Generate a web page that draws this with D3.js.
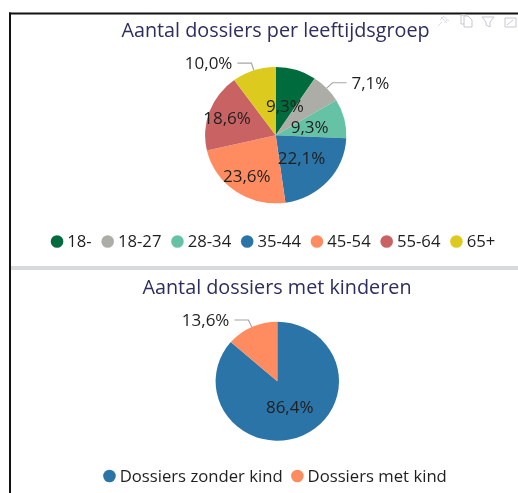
<!DOCTYPE html>
<html>
<head>
<meta charset="utf-8">
<script src="https://cdn.jsdelivr.net/npm/d3@7"></script>
<style>
  html, body { margin: 0; padding: 0; background: #fff; }
  svg { display: block; filter: blur(0.35px); font-family: "Open Sans", "Noto Sans", sans-serif; }
</style>
</head>
<body>
<svg id="chart" width="518" height="493"></svg>
<script>
const ageGroups = ['18-', '18-27', '28-34', '35-44', '45-54', '55-64', '65+'];
const ageShares = [9.3, 7.1, 9.3, 22.1, 23.6, 18.6, 10.0];
const ageColors = ['#006b3c', '#adada8', '#66c2a5', '#2b74a8', '#ff8c61', '#c96262', '#dccb1e'];

const kidGroups = ['Dossiers zonder kind', 'Dossiers met kind'];
const kidShares = [86.4, 13.6];
const kidColors = ['#2b74a8', '#ff8c61'];

const titleColor = '#2d2d5f';
const textColor = '#1f1f1f';
const leaderColor = '#a6a6a6';
const squash = 0.965; // the screenshot is slightly squashed vertically

const svg = d3.select('#chart');

// window chrome: black frame, grey divider between the two visuals
svg.append('rect').attr('x', 9).attr('y', 12.5).attr('width', 509).attr('height', 2).attr('fill', '#111');
svg.append('rect').attr('x', 9).attr('y', 12.5).attr('width', 2).attr('height', 481).attr('fill', '#111');
svg.append('rect').attr('x', 11).attr('y', 266).attr('width', 507).attr('height', 4).attr('fill', '#d9dadc');

function fmt(v) {
  return v.toFixed(1).replace('.', ',') + '%';
}

function drawPie(o) {
  const g = svg.append('g');

  g.append('text')
    .attr('x', o.titleX)
    .attr('y', o.titleY)
    .attr('text-anchor', 'middle')
    .attr('fill', titleColor)
    .style('font-size', '19.8px')
    .text(o.title);

  const slices = d3.pie().sort(null).value(d => d)(o.values);
  const arc = d3.arc().innerRadius(0).outerRadius(o.r);
  const color = d3.scaleOrdinal().domain(o.names).range(o.colors);

  const pie = g.append('g').attr('transform', `translate(${o.cx},${o.cy})`);

  pie.append('g')
    .attr('transform', `scale(1,${squash})`)
    .selectAll('path')
    .data(slices)
    .enter().append('path')
    .attr('d', arc)
    .attr('fill', (d, i) => color(o.names[i]));

  slices.forEach((d, i) => {
    const mid = (d.startAngle + d.endAngle) / 2;
    const sin = Math.sin(mid);
    const cos = Math.cos(mid);
    const inside = o.labelRadius[i];

    if (inside) {
      pie.append('text')
        .attr('x', sin * inside)
        .attr('y', -cos * inside * squash)
        .attr('dy', '0.35em')
        .attr('text-anchor', 'middle')
        .attr('fill', textColor)
        .style('font-size', '17px')
        .text(fmt(d.value));
      return;
    }

    // outside label with an elbow leader
    const side = sin < 0 ? -1 : 1;
    const ex = sin * (o.r + 8);
    const ey = -cos * (o.r + 8) * squash;
    const hx = ex + side * 14;
    pie.append('path')
      .attr('d', d3.line()([[sin * o.r, -cos * o.r * squash], [ex, ey], [hx, ey]]))
      .attr('fill', 'none')
      .attr('stroke', leaderColor)
      .attr('stroke-width', 1.2);
    pie.append('text')
      .attr('x', hx + side * 5)
      .attr('y', ey)
      .attr('dy', '0.35em')
      .attr('text-anchor', side < 0 ? 'end' : 'start')
      .attr('fill', textColor)
      .style('font-size', '17px')
      .text(fmt(d.value));
  });

  // legend, flowed from measured text widths and centred
  const legend = g.append('g');
  let x = 0;
  o.names.forEach(name => {
    const item = legend.append('g').attr('transform', `translate(${x},${o.legendY})`);
    item.append('circle').attr('cx', 6.3).attr('r', 6.3).attr('fill', color(name));
    const label = item.append('text')
      .attr('x', 16.5)
      .attr('dy', '0.35em')
      .attr('fill', textColor)
      .style('font-size', '16.7px')
      .text(name);
    x += 16.5 + label.node().getComputedTextLength() + o.legendGap;
  });
  legend.attr('transform', `translate(${o.legendCx - (x - o.legendGap) / 2},0)`);
}

drawPie({
  title: 'Aantal dossiers per leeftijdsgroep',
  titleX: 275.5, titleY: 37,
  names: ageGroups, values: ageShares, colors: ageColors,
  cx: 275.7, cy: 135.2, r: 70.6,
  labelRadius: [32, 0, 35, 35, 51, 52, 0],
  legendY: 241.5, legendCx: 273, legendGap: 9.7
});

drawPie({
  title: 'Aantal dossiers met kinderen',
  titleX: 277, titleY: 294,
  names: kidGroups, values: kidShares, colors: kidColors,
  cx: 277.3, cy: 381.2, r: 61.7,
  labelRadius: [30, 0],
  legendY: 476, legendCx: 275, legendGap: 8.4
});

// visual header icons
const icons = svg.append('g')
  .attr('fill', 'none')
  .attr('stroke', '#c6c6d2')
  .attr('stroke-width', 1);
icons.append('path').attr('d', 'M438 26 L442 22 M441 17 L447 23 M443 16 L449 21 M443 17 L440 20 M447 20 L444 23').attr('stroke', '#dcdce2');
icons.append('path').attr('d', 'M464 16 H468 L472 20 V27 H464 Z M464 24 H461 V15 H466');
icons.append('path').attr('d', 'M482 17 H494 L490 22 V27 L486 25 V22 Z');
icons.append('path').attr('d', 'M505 18 H516 V27 H505 Z M507 25 L513 20');
</script>
</body>
</html>
